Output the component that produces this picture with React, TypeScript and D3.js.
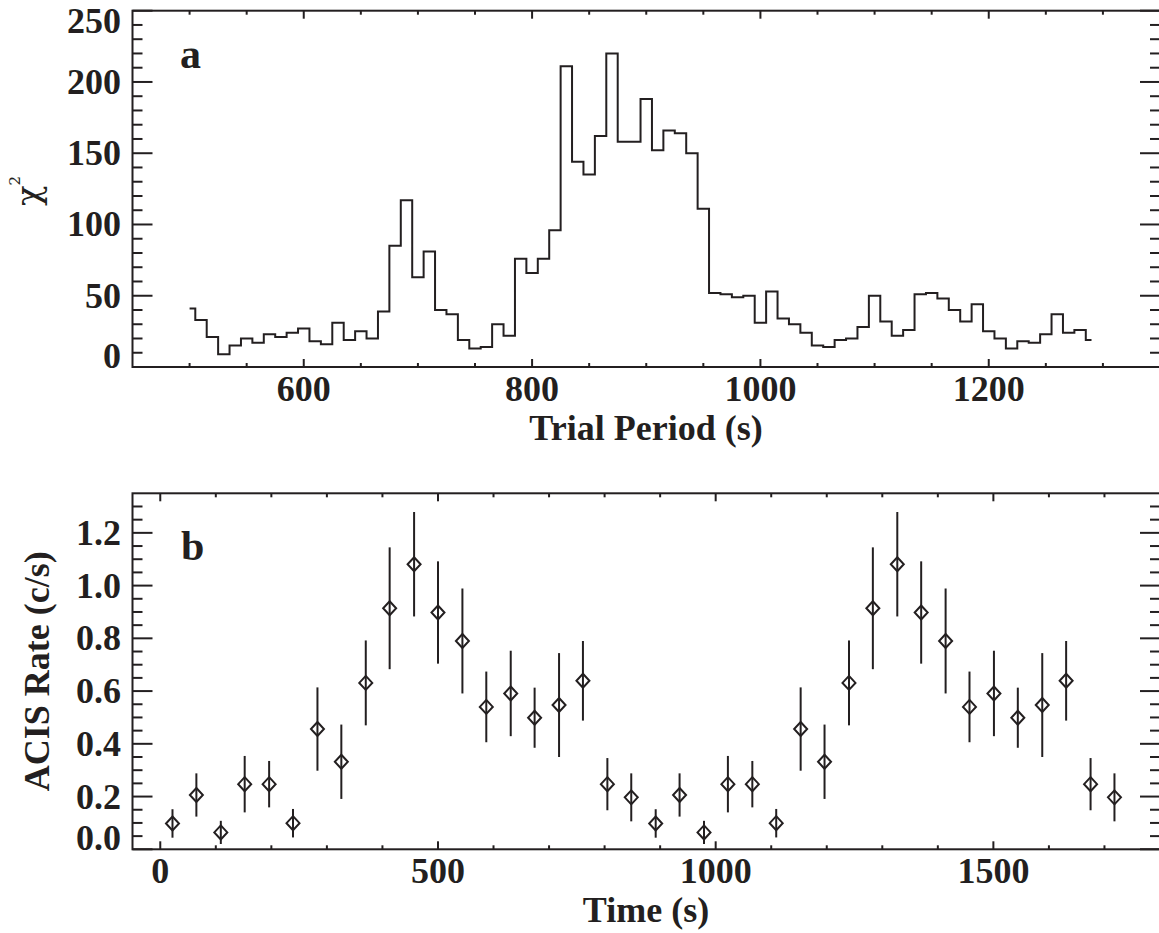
import React from 'react';
import * as d3 from 'd3';

// ---------- Data ----------
// Panel a: chi-square periodogram (trial period in s)
const periods = [
  500, 510, 520, 530, 540, 550, 560, 570, 580, 590,
  600, 610, 620, 630, 640, 650, 660, 670, 680, 690,
  700, 710, 720, 730, 740, 750, 760, 770, 780, 790,
  800, 810, 820, 830, 840, 850, 860, 870, 880, 890,
  900, 910, 920, 930, 940, 950, 960, 970, 980, 990,
  1000, 1010, 1020, 1030, 1040, 1050, 1060, 1070, 1080, 1090,
  1100, 1110, 1120, 1130, 1140, 1150, 1160, 1170, 1180, 1190,
  1200, 1210, 1220, 1230, 1240, 1250, 1260, 1270, 1280, 1290,
];
const chi2 = [
  41, 33, 21, 9, 15, 20, 17, 23, 21, 24,
  27, 18, 16, 31, 19, 25, 20, 39, 85, 117,
  63, 81, 40, 37, 19, 13, 14, 30, 22, 76,
  66, 76, 96, 211, 144, 135, 162, 220, 158, 158,
  188, 152, 166, 164, 150, 111, 52, 51, 49, 50,
  31, 53, 34, 30, 24, 15, 14, 19, 20, 28,
  50, 32, 22, 26, 51, 52, 48, 40, 32, 44,
  25, 20, 13, 18, 17, 23, 37, 24, 26, 19,
];
const chiTicks = [0, 50, 100, 150, 200, 250];
const periodTicks = [600, 800, 1000, 1200];

// Panel b: folded ACIS light curve
const times = [
  22, 65, 109, 152, 196, 239, 283, 326, 370, 413,
  457, 500, 544, 587, 631, 674, 718, 761, 805, 848,
  892, 935, 979, 1022, 1066, 1109, 1153, 1196, 1240, 1283,
  1327, 1370, 1414, 1457, 1501, 1544, 1588, 1631, 1675, 1718,
];
const rates = [
  0.098, 0.206, 0.064, 0.247, 0.247, 0.099, 0.456, 0.332, 0.631, 0.914,
  1.081, 0.898, 0.790, 0.540, 0.591, 0.499, 0.547, 0.639, 0.247, 0.197,
  0.098, 0.206, 0.064, 0.247, 0.247, 0.099, 0.456, 0.332, 0.631, 0.914,
  1.081, 0.898, 0.790, 0.540, 0.591, 0.499, 0.547, 0.639, 0.247, 0.197,
];
const rateErrors = [
  0.054, 0.082, 0.044, 0.107, 0.088, 0.054, 0.158, 0.141, 0.161, 0.231,
  0.198, 0.194, 0.199, 0.134, 0.162, 0.114, 0.197, 0.151, 0.099, 0.091,
  0.054, 0.082, 0.044, 0.107, 0.088, 0.054, 0.158, 0.141, 0.161, 0.231,
  0.198, 0.194, 0.199, 0.134, 0.162, 0.114, 0.197, 0.151, 0.099, 0.091,
];
const rateTicks = [0.0, 0.2, 0.4, 0.6, 0.8, 1.0, 1.2];
const timeTicks = [0, 500, 1000, 1500];

// ---------- Layout ----------
const W = 1159;
const H = 933;
const INK = '#231f20';
const FONT = '"Liberation Serif", "Times New Roman", Times, serif';
const LEFT = 132.5;
const RIGHT = 1160;
const A_TOP = 10.7;
const A_BOTTOM = 367;
const B_TOP = 493.3;
const B_BOTTOM = 849.3;

type AxesProps = {
  x: d3.ScaleLinear<number, number>;
  y: d3.ScaleLinear<number, number>;
  xMajor: number[];
  xMinor: number[];
  yMajor: number[];
  yMinor: number[];
  xFmt: (v: number) => string;
  yFmt: (v: number) => string;
  top: number;
  bottom: number;
};

function Axes({ x, y, xMajor, xMinor, yMajor, yMinor, xFmt, yFmt, top, bottom }: AxesProps) {
  const sw = 2;
  return (
    <g>
      <rect x={LEFT} y={top} width={RIGHT - LEFT} height={bottom - top} fill="none" stroke={INK} strokeWidth={sw} />
      {xMinor.map((v) => (
        <g key={'xm' + v}>
          <line x1={x(v)} x2={x(v)} y1={bottom} y2={bottom - 4} stroke={INK} strokeWidth={sw} />
          <line x1={x(v)} x2={x(v)} y1={top} y2={top + 4} stroke={INK} strokeWidth={sw} />
        </g>
      ))}
      {xMajor.map((v) => (
        <g key={'xM' + v}>
          <line x1={x(v)} x2={x(v)} y1={bottom} y2={bottom - 8} stroke={INK} strokeWidth={sw} />
          <line x1={x(v)} x2={x(v)} y1={top} y2={top + 8} stroke={INK} strokeWidth={sw} />
          <text x={x(v)} y={bottom + 34} textAnchor="middle" fontFamily={FONT} fontWeight="bold" fontSize={36} fill={INK}>
            {xFmt(v)}
          </text>
        </g>
      ))}
      {yMinor.map((v) => (
        <g key={'ym' + v}>
          <line x1={LEFT} x2={LEFT + 10} y1={y(v)} y2={y(v)} stroke={INK} strokeWidth={sw} />
          <line x1={RIGHT} x2={RIGHT - 10} y1={y(v)} y2={y(v)} stroke={INK} strokeWidth={sw} />
        </g>
      ))}
      {yMajor.map((v) => {
        const py = y(v);
        let shift = 0;
        if (Math.abs(py - bottom) < 2) shift = -11;
        if (Math.abs(py - top) < 2) shift = 10;
        return (
          <g key={'yM' + v}>
            <line x1={LEFT} x2={LEFT + 20} y1={py} y2={py} stroke={INK} strokeWidth={sw} />
            <line x1={RIGHT} x2={RIGHT - 20} y1={py} y2={py} stroke={INK} strokeWidth={sw} />
            <text x={121} y={py + 12 + shift} textAnchor="end" fontFamily={FONT} fontWeight="bold" fontSize={36} fill={INK}>
              {yFmt(v)}
            </text>
          </g>
        );
      })}
    </g>
  );
}

export default function App() {
  // Panel a scales
  const xA = d3.scaleLinear().domain([450, 1350]).range([LEFT, RIGHT]);
  const yA = d3.scaleLinear().domain([0, 250]).range([A_BOTTOM, A_TOP]);
  // Panel b scales
  const xB = d3.scaleLinear().domain([-50, 1800]).range([LEFT, RIGHT]);
  const yB = d3.scaleLinear().domain([0, 1.35]).range([B_BOTTOM, B_TOP]);

  const stepLine = d3
    .line<number>()
    .x((_, i) => xA(periods[i]))
    .y((d) => yA(d))
    .curve(d3.curveStep);

  const xMinorA = d3.range(500, 1350, 50).filter((v) => !periodTicks.includes(v));
  const yMinorA = d3.range(10, 250, 10).filter((v) => !chiTicks.includes(v));
  const xMinorB = d3.range(100, 1800, 100).filter((v) => !timeTicks.includes(v));
  const yMinorB = d3
    .range(1, 27)
    .map((k) => +(k * 0.05).toFixed(2))
    .filter((v) => !rateTicks.some((t) => Math.abs(t - v) < 1e-6));

  const dx = 6.5; // diamond half-width
  const dy = 7; // diamond half-height
  const diamond = (cx: number, cy: number) =>
    `M${cx},${cy - dy}L${cx + dx},${cy}L${cx},${cy + dy}L${cx - dx},${cy}Z`;

  return (
    <svg
      width={W}
      height={H}
      viewBox={`0 0 ${W} ${H}`}
      style={{ position: 'absolute', left: 0, top: 0, background: '#fff' }}
    >
      <rect x={0} y={0} width={W} height={H} fill="#fff" />

      {/* Panel a */}
      <Axes
        x={xA}
        y={yA}
        xMajor={periodTicks}
        xMinor={xMinorA}
        yMajor={chiTicks}
        yMinor={yMinorA}
        xFmt={(v) => String(v)}
        yFmt={(v) => String(v)}
        top={A_TOP}
        bottom={A_BOTTOM}
      />
      <path d={stepLine(chi2) || ''} fill="none" stroke={INK} strokeWidth={2} strokeLinejoin="miter" />
      <text x={180} y={68} fontFamily={FONT} fontWeight="bold" fontSize={42} fill={INK}>
        a
      </text>
      <text x={646} y={440} textAnchor="middle" fontFamily={FONT} fontWeight="bold" fontSize={36} fill={INK}>
        Trial Period (s)
      </text>
      <text transform={`translate(40,191) rotate(-90)`} textAnchor="middle" fontFamily={'"DejaVu Serif", serif'} fontSize={34} fill={INK}>
        <tspan>χ</tspan>
        <tspan dy={-20} fontSize={15}>2</tspan>
      </text>

      {/* Panel b */}
      <Axes
        x={xB}
        y={yB}
        xMajor={timeTicks}
        xMinor={xMinorB}
        yMajor={rateTicks}
        yMinor={yMinorB}
        xFmt={(v) => String(v)}
        yFmt={(v) => v.toFixed(1)}
        top={B_TOP}
        bottom={B_BOTTOM}
      />
      {times.map((t, i) => (
        <line
          key={'e' + i}
          x1={xB(t)}
          x2={xB(t)}
          y1={yB(rates[i] - rateErrors[i])}
          y2={yB(rates[i] + rateErrors[i])}
          stroke={INK}
          strokeWidth={2}
        />
      ))}
      {times.map((t, i) => (
        <path key={'d' + i} d={diamond(xB(t), yB(rates[i]))} fill="none" stroke={INK} strokeWidth={2} />
      ))}
      <text x={181} y={560} fontFamily={FONT} fontWeight="bold" fontSize={42} fill={INK}>
        b
      </text>
      <text x={646} y={922} textAnchor="middle" fontFamily={FONT} fontWeight="bold" fontSize={36} fill={INK}>
        Time (s)
      </text>
      <text
        transform={`translate(49,${(B_TOP + B_BOTTOM) / 2}) rotate(-90)`}
        textAnchor="middle"
        fontFamily={FONT}
        fontWeight="bold"
        fontSize={36}
        fill={INK}
      >
        ACIS Rate (c/s)
      </text>
    </svg>
  );
}
